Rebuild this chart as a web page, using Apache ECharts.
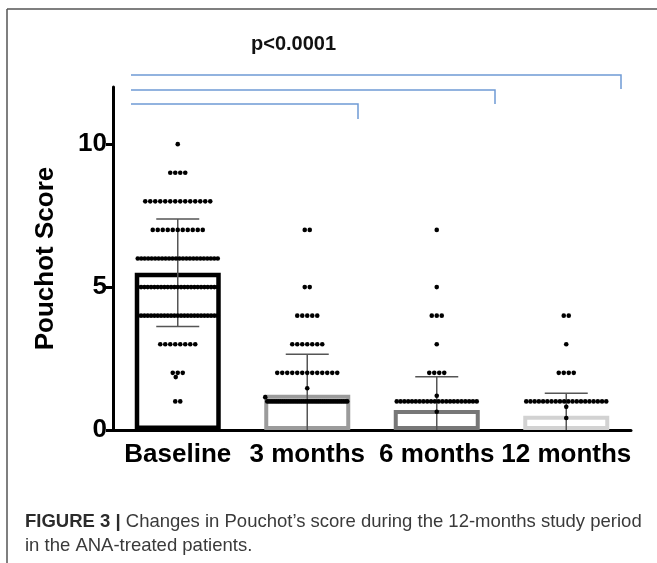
<!DOCTYPE html>
<html><head><meta charset="utf-8">
<script src="https://cdn.jsdelivr.net/npm/echarts@6/dist/echarts.min.js"></script>
<style>html,body{margin:0;padding:0;background:#fff}#c{width:657px;height:563px}</style>
</head><body><div id="c"></div>
<script>
// ---- data ----
const categories = ['Baseline', '3 months', '6 months', '12 months'];
const meanScores = [5.5, 1.23, 0.7, 0.5];
const sdScores = [1.88, 1.42, 1.16, 0.79];
const yTicks = [0, 5, 10];
// individual patient scores: levels and number of patients at each level
const baselineLevels = [10, 9, 8, 7, 6, 5, 4, 3, 2, 1.85, 1];
const baselineCounts = [1, 4, 14, 11, 24, 25, 25, 8, 3, 1, 2];
const month3Levels = [7, 5, 4, 3, 2, 1.46, 1.15, 1];
const month3Counts = [2, 2, 5, 7, 13, 1, 1, 43];
const month6Levels = [7, 5, 4, 3, 2, 1.2, 1, 0.64];
const month6Counts = [1, 1, 3, 1, 4, 1, 22, 1];
const month12Levels = [4, 3, 2, 1, 0.81, 0.42];
const month12Counts = [2, 1, 4, 20, 1, 1];
const titleText = 'p<0.0001';
const yName = 'Pouchot Score';
const captionBold = 'FIGURE 3 |';
const captionLine1 = ' Changes in Pouchot\u2019s score during the 12-months study period';
const captionLine2 = 'in the ANA-treated patients.';

// ---- layout ----
const GRID = {left: 113, right: 26, top: 87, bottom: 133};
const Y_MAX = 12;
const pxPerUnit = (563 - GRID.top - GRID.bottom) / Y_MAX;
const ROW_W = 80, DOT_GAP = 5, DOT_D = 4.6;
const barColors = ['#000000', '#9b9b9b', '#777777', '#d2d2d2'];
const barBorders = [4.5, 4, 4, 4];

function layoutGroup(ci, levels, counts) {
  const placed = [];
  // integer rows first
  levels.forEach((v, k) => {
    if (Math.abs(v - Math.round(v)) > 1e-9) return;
    const n = counts[k];
    const s = n > 1 ? Math.min(DOT_GAP, ROW_W / (n - 1)) : 0;
    for (let i = 0; i < n; i++) placed.push([ci, v, (i - (n - 1) / 2) * s]);
  });
  // other values: nearest free position to the centre (left side first)
  levels.forEach((v, k) => {
    if (Math.abs(v - Math.round(v)) <= 1e-9) return;
    for (let j = 0; j < counts[k]; j++) {
      let dx = 0;
      for (let step = 0; step < 400; step++) {
        const cand = (step % 2 === 1 ? -1 : 1) * Math.ceil(step / 2) * 0.5;
        const ok = placed.every(p => {
          const ddx = p[2] - cand, ddy = (p[1] - v) * pxPerUnit;
          return p[0] !== ci || Math.hypot(ddx, ddy) >= DOT_D;
        });
        if (ok) { dx = cand; break; }
      }
      placed.push([ci, v, dx]);
    }
  });
  return placed;
}
const dotData = [].concat(
  layoutGroup(0, baselineLevels, baselineCounts),
  layoutGroup(1, month3Levels, month3Counts),
  layoutGroup(2, month6Levels, month6Counts),
  layoutGroup(3, month12Levels, month12Counts)
);
const errData = meanScores.map((m, i) => [i, Math.max(0, m - sdScores[i]), m + sdScores[i], m - sdScores[i] > 0 ? 1 : 0]);

const chart = echarts.init(document.getElementById('c'), null, {renderer: 'canvas'});
const FONT = 'Liberation Sans, Arial, sans-serif';
chart.setOption({
  animation: false,
  backgroundColor: '#fff',
  grid: GRID,
  title: {
    text: titleText, left: 246, top: 29,
    textStyle: {fontFamily: FONT, fontSize: 20, fontWeight: 'bold', color: '#111'}
  },
  xAxis: {
    type: 'category', data: categories,
    axisLine: {lineStyle: {color: '#000', width: 3}},
    axisTick: {alignWithLabel: true, length: 7, lineStyle: {color: '#000', width: 3}},
    axisLabel: {interval: 0, hideOverlap: false, fontFamily: FONT, fontSize: 26, fontWeight: 'bold', color: '#000', margin: 12}
  },
  yAxis: {
    type: 'value', min: yTicks[0], max: Y_MAX, interval: yTicks[1] - yTicks[0],
    name: yName, nameLocation: 'middle', nameGap: 54, nameRotate: 90,
    nameTextStyle: {fontFamily: FONT, fontSize: 26, fontWeight: 'bold', color: '#000'},
    axisLine: {show: true, lineStyle: {color: '#000', width: 3}},
    axisTick: {show: true, length: 7, lineStyle: {color: '#000', width: 3}},
    axisLabel: {fontFamily: FONT, fontSize: 26, fontWeight: 'bold', color: '#000', margin: 6, showMaxLabel: false},
    splitLine: {show: false}
  },
  series: [
    {
      type: 'bar', barWidth: 86, z: 2,
      data: meanScores.map((v, i) => ({value: v, itemStyle: {color: 'rgba(255,255,255,0)', borderColor: barColors[i], borderWidth: barBorders[i]}}))
    },
    {
      type: 'custom', z: 3, clip: false,
      data: errData,
      renderItem(params, api) {
        const i = api.value(0);
        const lo = api.coord([i, api.value(1)]);
        const hi = api.coord([i, api.value(2)]);
        const cap = 21.5;
        const st = {stroke: '#555', lineWidth: 1.5};
        const children = [
          {type: 'line', shape: {x1: lo[0], y1: lo[1], x2: hi[0], y2: hi[1]}, style: st},
          {type: 'line', shape: {x1: hi[0] - cap, y1: hi[1], x2: hi[0] + cap, y2: hi[1]}, style: st}
        ];
        if (api.value(3)) children.push({type: 'line', shape: {x1: lo[0] - cap, y1: lo[1], x2: lo[0] + cap, y2: lo[1]}, style: st});
        return {type: 'group', children};
      }
    },
    {
      type: 'custom', z: 4, clip: false,
      data: dotData,
      renderItem(params, api) {
        const p = api.coord([api.value(0), api.value(1)]);
        return {type: 'circle', shape: {cx: p[0] + api.value(2), cy: p[1], r: DOT_D / 2}, style: {fill: '#000'}};
      }
    }
  ],
  graphic: [
    {type: 'line', shape: {x1: 7, y1: 9, x2: 657, y2: 9}, style: {stroke: '#555', lineWidth: 1.5}},
    {type: 'line', shape: {x1: 7, y1: 9, x2: 7, y2: 563}, style: {stroke: '#555', lineWidth: 1.5}},
    {type: 'polyline', shape: {points: [[131, 75], [621, 75], [621, 89]]}, style: {stroke: '#6f9bd5', lineWidth: 1.5, fill: null}},
    {type: 'polyline', shape: {points: [[131, 90], [495, 90], [495, 104]]}, style: {stroke: '#6f9bd5', lineWidth: 1.5, fill: null}},
    {type: 'polyline', shape: {points: [[131, 104], [358, 104], [358, 119]]}, style: {stroke: '#6f9bd5', lineWidth: 1.5, fill: null}},
    {
      type: 'text', left: 25, top: 512,
      style: {
        text: '{b|' + captionBold + '}{r|' + captionLine1 + '}\n{r|' + captionLine2 + '}',
        rich: {
          b: {fontFamily: FONT, fontSize: 18.5, fontWeight: 'bold', fill: '#2b2b2b', lineHeight: 24},
          r: {fontFamily: FONT, fontSize: 18.5, fill: '#3a3a3a', lineHeight: 24}
        }
      }
    }
  ]
});
</script></body></html>
